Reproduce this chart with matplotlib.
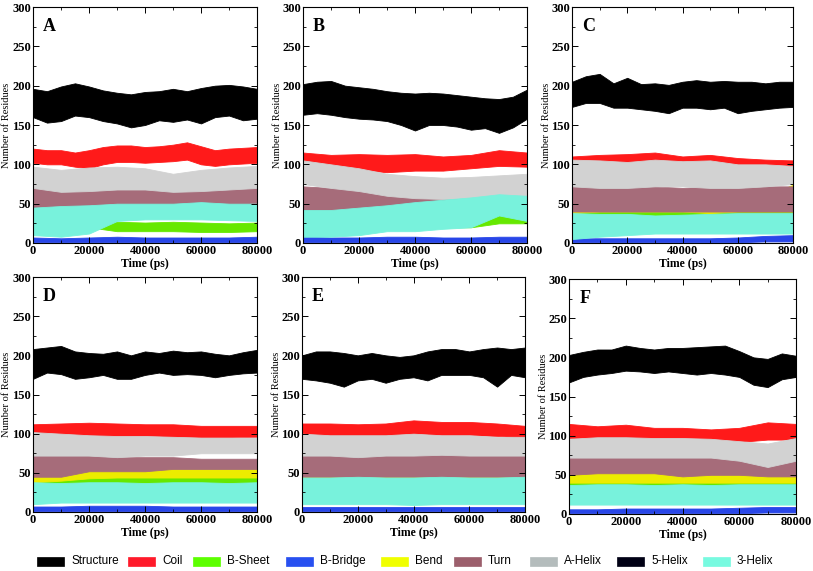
import matplotlib
matplotlib.use("Agg")
import matplotlib.pyplot as plt
from matplotlib.patches import Rectangle
from matplotlib.ticker import MultipleLocator

# ---------------- data ----------------
T_FINE = [0, 5000, 10000, 15000, 20000, 25000, 30000, 35000, 40000,
          45000, 50000, 55000, 60000, 65000, 70000, 75000, 80000]
T_COARSE = [0, 10000, 20000, 30000, 40000, 50000, 60000, 70000, 80000]

SERIES = ["Structure", "Coil", "B-Sheet", "B-Bridge", "Bend", "Turn",
          "A-Helix", "5-Helix", "3-Helix"]
COLORS = ["#000000", "#ff1a1a", "#66e800", "#2846e8", "#ecec00", "#a66c7a",
          "#d2d2d2", "#000028", "#78f2dc"]
LEGEND_COLORS = ["#000000", "#ff1a2a", "#5cff00", "#2850f0", "#f0ff00", "#9c5f6c",
                 "#b4bcbc", "#000014", "#78fae0"]
PANEL_LABELS = ["A", "B", "C", "D", "E", "F"]
Y_TICKS = [0, 50, 100, 150, 200, 250, 300]
X_TICKS = [0, 20000, 40000, 60000, 80000]

# each band: (lower envelope, upper envelope)
# ---- panel A ----
A_STRUCTURE = ([160, 153, 155, 162, 160, 155, 152, 147, 150, 156, 154, 157, 152, 160, 162, 156, 158],
               [196, 193, 199, 203, 199, 194, 191, 189, 192, 193, 196, 193, 197, 200, 201, 199, 196])
A_COIL = ([102, 100, 100, 97, 95, 100, 103, 103, 102, 103, 104, 106, 100, 98, 100, 101, 102],
          [120, 118, 118, 115, 118, 122, 124, 124, 122, 123, 125, 128, 123, 118, 120, 121, 122])
A_BSHEET = ([32, 28, 20, 15, 15, 15, 14, 14, 15], [50, 45, 35, 27, 26, 27, 26, 25, 26])
A_BBRIDGE = ([1, 1, 1, 1, 1, 1, 1, 1, 1], [7, 6, 7, 8, 7, 7, 7, 7, 8])
A_BEND = ([38, 36, 38, 38, 38, 38, 40, 40, 40], [55, 52, 57, 56, 55, 55, 57, 56, 55])
A_TURN = ([45, 44, 45, 46, 44, 45, 46, 44, 44], [73, 75, 72, 76, 74, 72, 73, 75, 74])
A_AHELIX = ([70, 65, 66, 68, 68, 65, 66, 68, 70], [97, 93, 96, 97, 95, 88, 93, 96, 98])
A_HELIX3 = ([10, 8, 12, 28, 30, 30, 30, 29, 28], [45, 47, 48, 50, 50, 50, 52, 50, 50])
# ---- panel B ----
B_STRUCTURE = ([163, 165, 163, 160, 158, 157, 155, 150, 143, 150, 150, 148, 144, 146, 140, 147, 158],
               [202, 205, 206, 200, 198, 196, 193, 191, 190, 191, 190, 188, 186, 184, 183, 186, 195])
B_COIL = ([97, 95, 93, 90, 92, 92, 95, 98, 97], [115, 112, 113, 112, 113, 110, 112, 118, 115])
B_BSHEET = ([28, 25, 22, 22, 20, 20, 20, 25, 25], [45, 42, 40, 38, 35, 35, 35, 38, 35])
B_BBRIDGE = ([1, 1, 1, 1, 1, 1, 1, 1, 1], [8, 7, 7, 8, 8, 7, 7, 8, 8])
B_BEND = ([45, 45, 45, 45, 45, 45, 45, 45, 45], [70, 68, 70, 68, 65, 65, 68, 68, 65])
B_TURN = ([40, 40, 42, 45, 45, 45, 45, 47, 47], [72, 70, 70, 68, 65, 63, 63, 65, 65])
B_AHELIX = ([75, 70, 66, 60, 57, 56, 57, 57, 58], [105, 100, 95, 88, 85, 83, 84, 86, 88])
B_HELIX3 = ([8, 8, 10, 15, 15, 18, 20, 35, 28], [42, 42, 45, 48, 52, 55, 58, 62, 60])
# ---- panel C ----
C_STRUCTURE = ([173, 178, 178, 172, 172, 170, 168, 165, 172, 172, 170, 172, 165, 168, 170, 172, 173],
               [205, 212, 215, 203, 210, 202, 203, 201, 205, 207, 205, 206, 205, 205, 203, 205, 205])
C_COIL = ([97, 95, 97, 98, 96, 97, 95, 93, 93], [110, 112, 113, 115, 110, 112, 108, 106, 105])
C_BSHEET = ([33, 33, 32, 33, 33, 33, 33, 33, 32], [46, 46, 45, 44, 45, 44, 47, 46, 46])
C_BBRIDGE = ([1, 1, 1, 1, 1, 1, 1, 2, 2], [6, 6, 6, 6, 6, 6, 7, 9, 10])
C_BEND = ([38, 40, 40, 40, 40, 38, 40, 40, 40], [52, 52, 55, 53, 52, 52, 55, 60, 74])
C_TURN = ([40, 40, 40, 40, 40, 40, 40, 40, 40], [75, 72, 73, 72, 70, 72, 70, 72, 72])
C_AHELIX = ([72, 70, 70, 72, 72, 70, 70, 72, 75], [106, 105, 103, 106, 104, 105, 100, 100, 98])
C_HELIX3 = ([5, 8, 10, 12, 12, 12, 12, 12, 12], [38, 37, 37, 35, 36, 37, 38, 38, 38])
# ---- panel D ----
D_STRUCTURE = ([170, 178, 176, 170, 172, 175, 170, 170, 175, 178, 175, 176, 175, 172, 175, 177, 178],
               [208, 210, 212, 205, 203, 202, 205, 200, 205, 203, 206, 204, 205, 202, 200, 204, 207])
D_COIL = ([98, 98, 97, 96, 97, 96, 95, 95, 96], [112, 113, 114, 113, 112, 112, 110, 110, 110])
D_BSHEET = ([30, 32, 32, 33, 33, 33, 33, 33, 33], [45, 45, 45, 46, 46, 45, 45, 45, 45])
D_BBRIDGE = ([1, 1, 1, 1, 1, 1, 1, 1, 1], [7, 7, 8, 8, 8, 7, 7, 7, 7])
D_BEND = ([38, 40, 43, 44, 44, 44, 44, 44, 44], [55, 52, 55, 55, 57, 58, 58, 60, 58])
D_TURN = ([45, 45, 52, 52, 52, 55, 55, 55, 55], [78, 75, 72, 70, 70, 70, 68, 68, 68])
D_AHELIX = ([72, 72, 72, 70, 72, 72, 75, 75, 75], [102, 100, 98, 97, 97, 96, 95, 95, 95])
D_HELIX3 = ([10, 12, 12, 12, 12, 12, 12, 12, 12], [38, 37, 38, 38, 37, 38, 38, 37, 38])
# ---- panel E ----
E_STRUCTURE = ([170, 168, 165, 160, 168, 170, 165, 170, 172, 168, 175, 175, 175, 172, 160, 175, 172],
               [200, 205, 205, 203, 200, 203, 200, 198, 200, 205, 208, 208, 205, 208, 210, 208, 210])
E_COIL = ([97, 97, 93, 97, 100, 98, 98, 97, 95], [113, 113, 112, 113, 117, 115, 115, 113, 110])
E_BSHEET = ([32, 32, 33, 32, 32, 33, 33, 33, 33], [46, 46, 46, 47, 46, 46, 46, 46, 46])
E_BBRIDGE = ([1, 1, 1, 1, 1, 1, 1, 1, 1], [6, 6, 6, 6, 6, 6, 6, 6, 6])
E_BEND = ([38, 40, 40, 38, 38, 40, 38, 40, 40], [50, 52, 55, 53, 52, 52, 53, 55, 56])
E_TURN = ([45, 45, 45, 45, 45, 45, 45, 45, 45], [76, 74, 76, 75, 76, 75, 74, 73, 74])
E_AHELIX = ([72, 72, 70, 72, 72, 73, 72, 72, 72], [100, 98, 98, 98, 100, 98, 98, 96, 96])
E_HELIX3 = ([10, 10, 10, 10, 9, 10, 10, 10, 10], [44, 44, 45, 44, 44, 45, 44, 44, 45])
# ---- panel F ----
F_STRUCTURE = ([168, 175, 178, 180, 183, 182, 180, 182, 180, 178, 180, 178, 175, 165, 162, 172, 175],
               [203, 207, 210, 210, 215, 212, 210, 212, 212, 213, 214, 215, 208, 200, 198, 205, 202])
F_COIL = ([97, 95, 96, 96, 95, 93, 92, 95, 95], [115, 112, 114, 110, 110, 108, 110, 117, 115])
F_BSHEET = ([30, 32, 32, 32, 32, 32, 32, 32, 32], [44, 45, 45, 45, 45, 45, 45, 45, 45])
F_BBRIDGE = ([1, 1, 1, 1, 1, 1, 1, 2, 2], [6, 6, 7, 7, 7, 7, 8, 9, 9])
F_BEND = ([40, 40, 40, 40, 40, 40, 40, 40, 40], [58, 58, 58, 56, 58, 56, 56, 55, 55])
F_TURN = ([50, 52, 52, 52, 48, 50, 50, 48, 48], [76, 75, 76, 75, 78, 76, 75, 70, 76])
F_AHELIX = ([72, 72, 72, 72, 72, 72, 68, 60, 68], [96, 98, 98, 97, 97, 96, 93, 90, 97])
F_HELIX3 = ([12, 12, 12, 12, 12, 12, 12, 12, 12], [37, 38, 38, 37, 38, 37, 38, 38, 38])

HELIX5 = ([0, 0, 0, 0, 0, 0, 0, 0, 0], [0, 0, 0, 0, 0, 0, 0, 0, 0])

PANELS = {
    "A": [A_STRUCTURE, A_COIL, A_BSHEET, A_BBRIDGE, A_BEND, A_TURN, A_AHELIX, HELIX5, A_HELIX3],
    "B": [B_STRUCTURE, B_COIL, B_BSHEET, B_BBRIDGE, B_BEND, B_TURN, B_AHELIX, HELIX5, B_HELIX3],
    "C": [C_STRUCTURE, C_COIL, C_BSHEET, C_BBRIDGE, C_BEND, C_TURN, C_AHELIX, HELIX5, C_HELIX3],
    "D": [D_STRUCTURE, D_COIL, D_BSHEET, D_BBRIDGE, D_BEND, D_TURN, D_AHELIX, HELIX5, D_HELIX3],
    "E": [E_STRUCTURE, E_COIL, E_BSHEET, E_BBRIDGE, E_BEND, E_TURN, E_AHELIX, HELIX5, E_HELIX3],
    "F": [F_STRUCTURE, F_COIL, F_BSHEET, F_BBRIDGE, F_BEND, F_TURN, F_AHELIX, HELIX5, F_HELIX3],
}

# ---------------- figure ----------------
SERIF = ["Liberation Serif", "DejaVu Serif"]
SANS = ["Liberation Sans", "DejaVu Sans"]

fig = plt.figure(figsize=(8.13, 5.71), dpi=100)
W, H = 813.0, 571.0
boxes = {
    "A": (33, 7, 224, 236), "B": (303, 7, 224, 236), "C": (572, 7, 221, 236),
    "D": (33, 277, 224, 235), "E": (302, 277, 223, 235), "F": (569, 279, 227, 235),
}

for name in PANEL_LABELS:
    x0, y0, w, h = boxes[name]
    ax = fig.add_axes([x0 / W, 1 - (y0 + h) / H, w / W, h / H])
    for (lo, hi), color in zip(PANELS[name], COLORS):
        t = T_FINE if len(lo) == len(T_FINE) else T_COARSE
        ax.fill_between(t, lo, hi, color=color, linewidth=0.6, edgecolor=color)
    ax.set_xlim(0, 80000)
    ax.set_ylim(0, 300)
    ax.set_xticks(X_TICKS)
    ax.set_yticks(Y_TICKS)
    ax.xaxis.set_minor_locator(MultipleLocator(10000))
    ax.yaxis.set_minor_locator(MultipleLocator(25))
    ax.tick_params(which="both", direction="in", top=True, right=True,
                   labelsize=9, pad=1.5)
    ax.tick_params(which="major", length=4, width=0.7)
    ax.tick_params(which="minor", length=2, width=0.6)
    for lab in ax.get_xticklabels() + ax.get_yticklabels():
        lab.set_family(SERIF)
        lab.set_fontweight("bold")
    for sp in ax.spines.values():
        sp.set_linewidth(0.8)
    ax.set_xlabel("Time (ps)", family=SERIF, fontsize=8.5, fontweight="bold", labelpad=0.5)
    ax.set_ylabel("Number of Residues", family=SERIF, fontsize=7.5, va="center")
    ax.yaxis.set_label_coords(-26.0 / w, 0.5)
    ax.text(0.045, 0.955, name, transform=ax.transAxes, family=SERIF,
            fontsize=13, fontweight="bold", va="top", ha="left")

# legend row (patch + label), laid out like the reference strip
legend_x = [37, 128, 193, 286, 381, 454, 530, 617, 703]
for xl, label, color in zip(legend_x, SERIES, LEGEND_COLORS):
    fig.add_artist(Rectangle((xl / W, 1 - 565.5 / H), 27 / W, 9 / H,
                             transform=fig.transFigure, facecolor=color,
                             edgecolor=color, linewidth=0.5))
    fig.text((xl + 34) / W, 1 - 561 / H, label, family=SANS, fontsize=8.5,
             va="center", ha="left")

fig.savefig("out.png", dpi=100)
